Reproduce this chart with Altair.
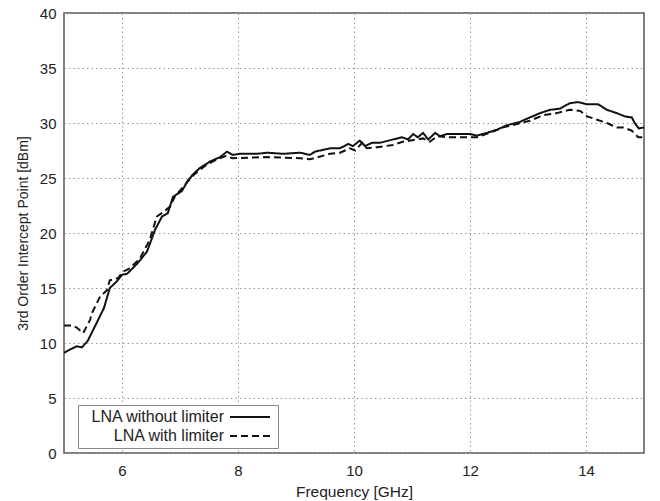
import altair as alt
import pandas as pd

# Series: LNA without limiter (solid)
freq_without = [5.00, 5.10, 5.22, 5.31, 5.41, 5.57, 5.69, 5.79, 5.91, 6.00, 6.09, 6.26, 6.43, 6.57,
                6.69, 6.79, 6.88, 7.03, 7.14, 7.22, 7.34, 7.52, 7.69, 7.81, 7.91, 8.03, 8.33, 8.50,
                8.78, 9.07, 9.24, 9.33, 9.59, 9.76, 9.90, 9.98, 10.10, 10.19, 10.31, 10.45, 10.67,
                10.83, 10.93, 11.02, 11.10, 11.19, 11.28, 11.40, 11.48, 11.60, 11.78, 12.00, 12.12,
                12.29, 12.47, 12.64, 12.86, 13.03, 13.21, 13.38, 13.55, 13.72, 13.86, 14.02, 14.21,
                14.36, 14.53, 14.67, 14.79, 14.84, 14.91, 15.00]
ip3_without = [9.1, 9.4, 9.7, 9.6, 10.2, 11.9, 13.2, 15.0, 15.6, 16.2, 16.3, 17.2, 18.3, 20.3,
               21.5, 21.8, 23.3, 23.8, 24.8, 25.3, 25.9, 26.5, 26.9, 27.4, 27.1, 27.2, 27.2, 27.3,
               27.2, 27.3, 27.1, 27.4, 27.7, 27.7, 28.1, 27.9, 28.4, 27.9, 28.2, 28.2, 28.5,
               28.7, 28.5, 29.0, 28.7, 29.1, 28.5, 29.1, 28.8, 29.0, 29.0, 29.0, 28.85,
               29.1, 29.4, 29.8, 30.1, 30.5, 30.9, 31.2, 31.3, 31.8, 31.9, 31.7, 31.7,
               31.2, 30.9, 30.6, 30.5, 30.0, 29.5, 29.6]

# Series: LNA with limiter (dashed)
freq_with = [5.00, 5.14, 5.22, 5.33, 5.45, 5.48, 5.62, 5.74, 5.79, 5.93, 6.02, 6.14, 6.31, 6.48,
             6.60, 6.71, 6.83, 6.91, 7.12, 7.26, 7.43, 7.60, 7.78, 7.91, 8.50, 9.07, 9.24, 9.59,
             9.76, 9.93, 10.02, 10.14, 10.22, 10.40, 10.67, 10.84, 11.09, 11.19, 11.31, 11.43,
             11.60, 11.88, 12.12, 12.34, 12.57, 12.81, 13.03, 13.26, 13.50, 13.72, 13.90, 14.02,
             14.19, 14.36, 14.53, 14.64, 14.79, 14.90, 15.00]
ip3_with = [11.6, 11.6, 11.4, 10.9, 12.1, 12.7, 14.2, 14.8, 15.7, 15.9, 16.5, 16.8, 17.7, 19.4,
            21.5, 21.9, 22.4, 23.3, 24.6, 25.4, 26.1, 26.6, 27.0, 26.8, 26.9, 26.8, 26.7, 27.2,
            27.3, 27.7, 27.5, 28.2, 27.7, 27.8, 28.0, 28.3, 28.5, 28.6, 28.3, 28.8,
            28.7, 28.7, 28.7, 29.1, 29.6, 29.9, 30.2, 30.7, 30.9, 31.2, 31.1, 30.6,
            30.3, 30.0, 29.6, 29.6, 29.3, 28.7, 28.7]

series_names = ["LNA without limiter", "LNA with limiter"]
x_ticks = [6, 8, 10, 12, 14]
y_ticks = [0, 5, 10, 15, 20, 25, 30, 35, 40]

df = pd.concat([
    pd.DataFrame({"f": freq_without, "ip3": ip3_without, "series": series_names[0],
                  "order": range(len(freq_without))}),
    pd.DataFrame({"f": freq_with, "ip3": ip3_with, "series": series_names[1],
                  "order": range(len(freq_with))}),
])

font = "Liberation Sans"

chart = alt.Chart(df).mark_line(strokeWidth=2, color="#111111", clip=True).encode(
    x=alt.X("f:Q", title="Frequency [GHz]",
            scale=alt.Scale(domain=[5, 15], nice=False, zero=False),
            axis=alt.Axis(values=x_ticks, grid=True, tickSize=0, labelPadding=10,
                          titlePadding=6, titleFontSize=15.5, domain=False)),
    y=alt.Y("ip3:Q", title="3rd Order Intercept Point [dBm]",
            scale=alt.Scale(domain=[0, 40], nice=False),
            axis=alt.Axis(values=y_ticks, grid=True, tickSize=0, labelPadding=8,
                          titlePadding=9, domain=False)),
    strokeDash=alt.StrokeDash("series:N", title=None,
                              scale=alt.Scale(domain=series_names, range=[[1, 0], [7, 4]]),
                              legend=alt.Legend(orient="none", legendX=14, legendY=392,
                                                symbolType="M4,0H12", symbolSize=100,
                                                symbolStrokeWidth=2, symbolStrokeColor="#111111",
                                                symbolOffset=120, labelOffset=6,
                                                labelAlign="right",
                                                rowPadding=3,
                                                labelFontSize=16, labelFont=font, labelColor="#222222",
                                                fillColor="white", strokeColor="#888888",
                                                padding=4, labelLimit=300)),
    detail="series:N",
    order="order:Q",
).properties(
    width=580, height=440,
    background="white",
    autosize=alt.AutoSizeParams(type="none"),
    padding={"left": 64, "top": 13, "right": 16, "bottom": 48},
).configure_view(
    stroke="#555555", strokeWidth=1.5
).configure_axis(
    labelFont=font, titleFont=font, labelFontSize=15, titleFontSize=14,
    labelColor="#222222", titleColor="#222222", titleFontWeight="normal",
    gridColor="#999999", gridDash=[1.5, 3], gridWidth=1,
)

chart.save("out.html", embed_options={"renderer": "svg", "actions": False})
